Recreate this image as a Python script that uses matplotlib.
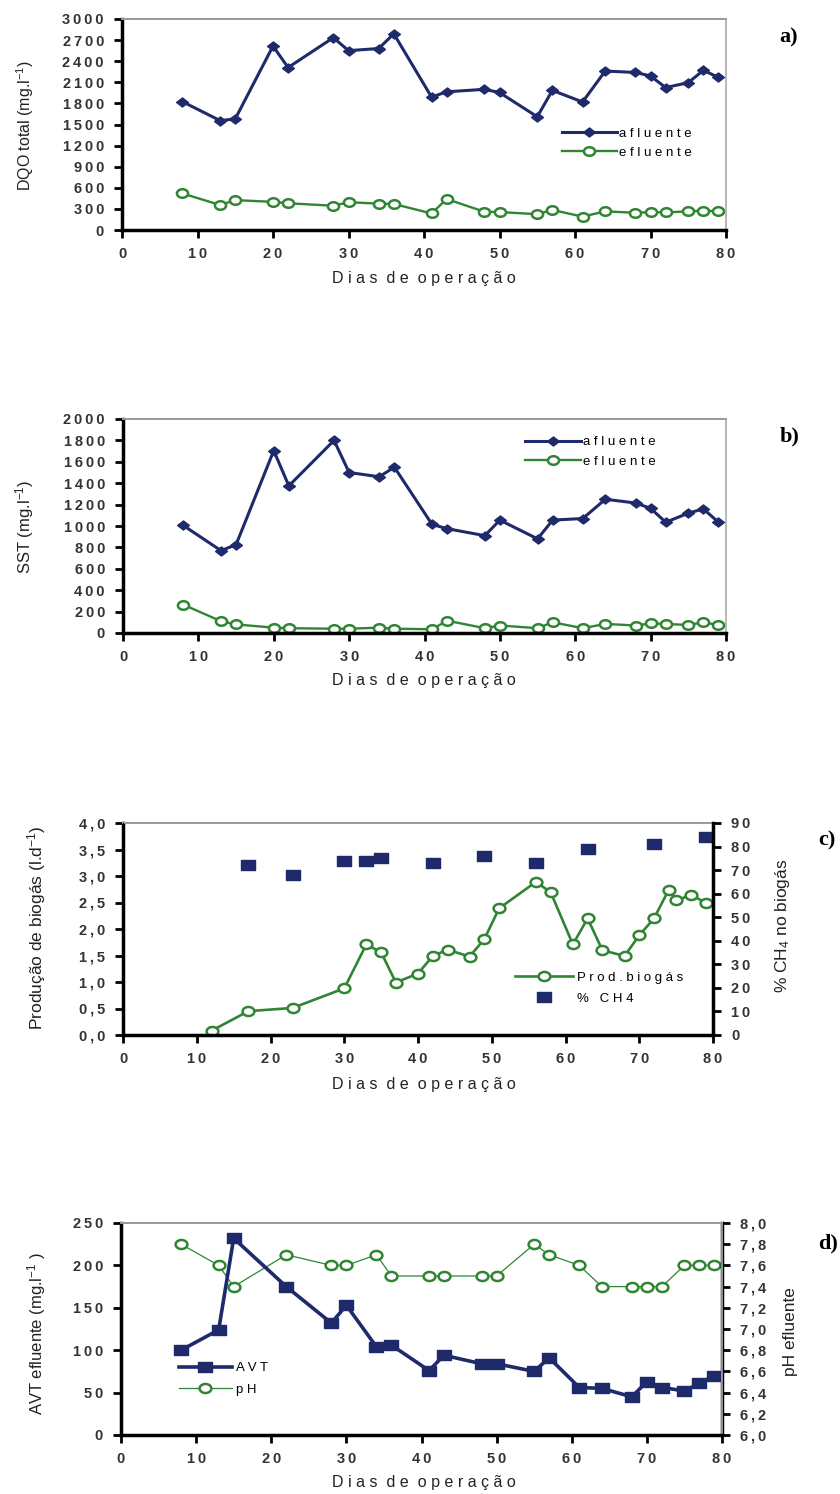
import numpy as np
import matplotlib.pyplot as plt
from matplotlib.path import Path
from matplotlib.transforms import Affine2D
from matplotlib.ticker import FixedLocator, FuncFormatter

plt.rcParams['font.family'] = ['Liberation Sans', 'DejaVu Sans']
plt.rcParams['mathtext.default'] = 'regular'

NAVY = '#1e2a6a'
GREEN = '#2f8532'

# a) DQO total
dias = [8, 13, 15, 20, 22, 28, 30, 34, 36, 41, 43, 48, 50, 55, 57, 61, 64, 68, 70, 72, 75, 77, 79]
dqo_afl = [1825, 1555, 1580, 2615, 2310, 2735, 2550, 2580, 2790, 1890, 1965, 2000, 1955,
           1610, 1985, 1820, 2260, 2240, 2190, 2025, 2095, 2270, 2170]
dqo_efl = [520, 355, 425, 400, 380, 345, 395, 375, 370, 235, 440, 260, 255,
           225, 285, 190, 265, 245, 255, 250, 265, 275, 265]

# b) SST
sst_afl = [1005, 770, 825, 1705, 1375, 1800, 1500, 1460, 1550, 1015, 975, 910, 1055,
           880, 1055, 1070, 1250, 1215, 1165, 1035, 1120, 1160, 1035]
sst_efl = [265, 110, 80, 50, 45, 40, 40, 50, 40, 35, 115, 45, 70,
           45, 100, 45, 85, 70, 90, 85, 75, 100, 75]

# c) biogas production and methane content
dias_biogas = [12, 17, 23, 30, 33, 35, 37, 40, 42, 44, 47, 49, 51, 56, 58, 61, 63, 65,
               68, 70, 72, 74, 75, 77, 79]
biogas = [0.08, 0.45, 0.51, 0.88, 1.71, 1.56, 0.99, 1.16, 1.49, 1.61, 1.48, 1.81, 2.39,
          2.89, 2.69, 1.71, 2.20, 1.60, 1.49, 1.88, 2.20, 2.74, 2.54, 2.64, 2.50]
dias_ch4 = [17, 23, 30, 33, 35, 42, 49, 56, 63, 72, 79]
ch4 = [72, 68, 74, 74, 75, 73, 76, 73, 79, 81, 84]

# d) volatile acids and pH of the effluent
dias_avt = [8, 13, 15, 22, 28, 30, 34, 36, 41, 43, 48, 50, 55, 57, 61, 64, 68, 70, 72, 75, 77, 79]
avt = [100, 124, 232, 175, 132, 153, 104, 106, 76, 94, 84, 84, 75, 91, 56, 55, 45, 63,
       56, 52, 61, 70]
ph = [7.8, 7.6, 7.4, 7.7, 7.6, 7.6, 7.7, 7.5, 7.5, 7.5, 7.5, 7.5, 7.8, 7.7, 7.6, 7.4,
      7.4, 7.4, 7.4, 7.6, 7.6, 7.6]

W, H = 840, 1494


def spaced(s, sep=' '):
    return sep.join(s)


def wide(path, k):
    # stretch a marker path horizontally
    return Affine2D().scale(k, 1).transform_path(path)


square = Affine2D().translate(-0.5, -0.5).transform_path(Path.unit_rectangle())
DIAMOND = wide(Path([(-1, 0), (0, 1), (1, 0), (0, -1), (-1, 0)], closed=True), 1.3)
ELLIPSE = wide(Path.unit_circle(), 1.3)
RECT_C = wide(square, 1.4)
RECT_D = wide(square, 1.27)

THIN = '\u2009'
int_fmt = FuncFormatter(lambda v, p: spaced('%d' % round(v), THIN))
dec_fmt = FuncFormatter(lambda v, p: spaced(('%.1f' % v).replace('.', ','), THIN))

tick_kw = dict(labelsize=10.5, width=2, length=6, direction='out', labelcolor='#333333')


def make_axes(x0, y0, x1, y1):
    ax = fig.add_axes([x0 / W, 1 - y1 / H, (x1 - x0) / W, (y1 - y0) / H])
    ax.set_xlim(0, 80)
    ax.xaxis.set_major_locator(FixedLocator(range(0, 81, 10)))
    ax.xaxis.set_major_formatter(int_fmt)
    ax.spines['left'].set_linewidth(2.5)
    ax.spines['bottom'].set_linewidth(2.5)
    ax.spines['top'].set_color('#999999')
    ax.spines['top'].set_linewidth(1.4)
    ax.spines['top'].set_linestyle((0, (2, 1)))
    ax.spines['right'].set_color('#aaaaaa')
    ax.spines['right'].set_linewidth(1.2)
    ax.tick_params(axis='x', pad=6, **tick_kw)
    ax.tick_params(axis='y', pad=7, right=False, **tick_kw)
    return ax


def bold_ticks(ax):
    for t in ax.get_xticklabels() + ax.get_yticklabels():
        t.set_fontweight('bold')


def xlabel(yc):
    fig.text(424 / W, 1 - yc / H, '  '.join(spaced(w) for w in 'Dias de operação'.split()),
             ha='center', va='center', fontsize=11.5, color='#222222')


def vlabel(xc, yc, s, size=12):
    fig.text(xc / W, 1 - yc / H, s, rotation=90, ha='center', va='center',
             fontsize=size, color='#222222')


def panel(xl, yc, s):
    fig.text(xl / W, 1 - yc / H, s, ha='left', va='center', fontsize=16,
             fontweight='bold', family='Liberation Serif')


fig = plt.figure(figsize=(W / 100, H / 100), dpi=100)

# a) DQO total
ax = make_axes(122, 19, 726, 230)
ax.plot(dias, dqo_afl, color=NAVY, lw=2.2, marker=DIAMOND, ms=8.5, label=spaced('afluente'))
ax.plot(dias, dqo_efl, color=GREEN, lw=1.7, marker=ELLIPSE, ms=8, mfc='white', mew=1.8,
        label=spaced('efluente'))
ax.set_ylim(0, 3000)
ax.yaxis.set_major_locator(FixedLocator(range(0, 3001, 300)))
ax.yaxis.set_major_formatter(int_fmt)
bold_ticks(ax)
ax.legend(loc='upper left', bbox_to_anchor=(0.728, 0.485), frameon=False, fontsize=9.5,
          handlelength=4.2, handletextpad=0.15, labelspacing=0.5, borderpad=0,
          borderaxespad=0)
xlabel(278)
vlabel(25, 126, r'DQO total (mg.l$^{-1}$)', 11.5)
panel(779, 37, 'a)')

# b) SST
ax = make_axes(123, 419, 726, 633)
ax.plot(dias, sst_afl, color=NAVY, lw=2.2, marker=DIAMOND, ms=8.5, label=spaced('afluente'))
ax.plot(dias, sst_efl, color=GREEN, lw=1.7, marker=ELLIPSE, ms=8, mfc='white', mew=1.8,
        label=spaced('efluente'))
ax.set_ylim(0, 2000)
ax.yaxis.set_major_locator(FixedLocator(range(0, 2001, 200)))
ax.yaxis.set_major_formatter(int_fmt)
bold_ticks(ax)
ax.legend(loc='upper left', bbox_to_anchor=(0.667, 0.92), frameon=False, fontsize=9.5,
          handlelength=4.2, handletextpad=0.15, labelspacing=0.55, borderpad=0,
          borderaxespad=0)
xlabel(680)
vlabel(25, 527, r'SST (mg.l$^{-1}$)', 12)
panel(780, 436, 'b)')

# c) biogas
ax = make_axes(123, 823, 713, 1035)
l1, = ax.plot(dias_biogas, biogas, color=GREEN, lw=1.9, marker=ELLIPSE, ms=8.5, mfc='white',
              mew=1.8, label=spaced('Prod.biogás'))
ax.set_ylim(0, 4)
ax.yaxis.set_major_locator(FixedLocator(np.arange(0, 4.01, 0.5)))
ax.yaxis.set_major_formatter(dec_fmt)
bold_ticks(ax)
ax2 = ax.twinx()
l2, = ax2.plot(dias_ch4, ch4, ls='none', color=NAVY, marker=RECT_C, ms=10,
               label='%   ' + spaced('CH4'))
ax2.set_ylim(0, 90)
ax2.yaxis.set_major_locator(FixedLocator(range(0, 91, 10)))
ax2.yaxis.set_major_formatter(int_fmt)
ax2.spines['right'].set_linewidth(2.5)
ax2.spines['right'].set_color('black')
ax2.spines['top'].set_visible(False)
ax2.tick_params(axis='y', pad=7, **tick_kw)
bold_ticks(ax2)
ax2.legend(handles=[l1, l2], loc='upper left', bbox_to_anchor=(0.664, 0.30), frameon=False,
           fontsize=9.5, handlelength=4.4, handletextpad=0.3, labelspacing=0.7, borderpad=0,
           borderaxespad=0)
xlabel(1085)
vlabel(37, 928, r'Produção de biogás (l.d$^{-1}$)', 12.5)
vlabel(783, 926, r'% CH$_4$ no biogás', 12.5)
panel(818, 840, 'c)')

# d) AVT and pH
ax = make_axes(121, 1223, 722, 1435)
ax2 = ax.twinx()
ax.set_zorder(ax2.get_zorder() + 1)
ax.patch.set_visible(False)
l1, = ax.plot(dias_avt, avt, color=NAVY, lw=2.6, marker=RECT_D, ms=10, label=spaced('AVT'))
ax.set_ylim(0, 250)
ax.yaxis.set_major_locator(FixedLocator(range(0, 251, 50)))
ax.yaxis.set_major_formatter(int_fmt)
bold_ticks(ax)
l2, = ax2.plot(dias_avt, ph, color=GREEN, lw=0.9, marker=ELLIPSE, ms=8.5, mfc='white',
               mew=1.8, label=spaced('pH'))
ax2.set_ylim(6, 8)
ax2.yaxis.set_major_locator(FixedLocator(np.arange(6, 8.01, 0.2)))
ax2.yaxis.set_major_formatter(dec_fmt)
ax2.spines['right'].set_linewidth(2.5)
ax2.spines['right'].set_color('black')
ax2.spines['top'].set_visible(False)
ax2.tick_params(axis='y', pad=7, **tick_kw)
bold_ticks(ax2)
ax.legend(handles=[l1, l2], loc='upper left', bbox_to_anchor=(0.0965, 0.344), frameon=False,
          fontsize=9.5, handlelength=4.0, handletextpad=0.3, labelspacing=0.7, borderpad=0,
          borderaxespad=0)
xlabel(1483)
vlabel(37, 1334, r'AVT efluente (mg.l$^{-1}$ )', 12)
vlabel(790, 1332, 'pH efluente', 12.5)
panel(818, 1243, 'd)')

fig.savefig('out.png', dpi=100)
